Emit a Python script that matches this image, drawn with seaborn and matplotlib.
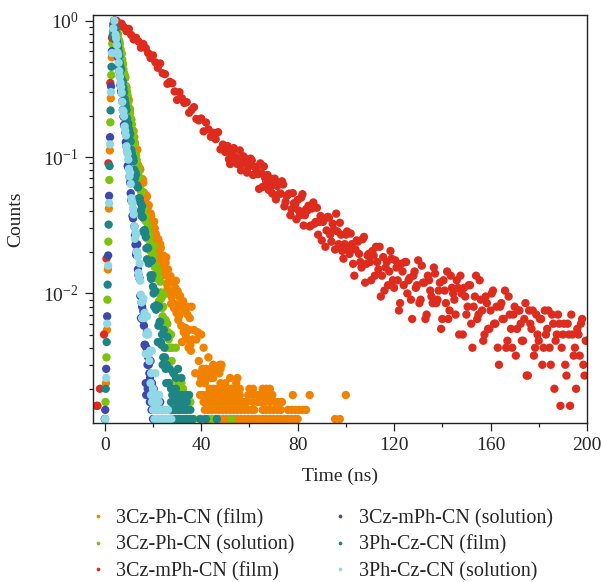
import numpy as np
import pandas as pd
import seaborn as sns
import matplotlib.pyplot as plt
from matplotlib.ticker import MultipleLocator

sns.set_style('ticks')
plt.rcParams['font.family'] = ['Liberation Serif', 'DejaVu Serif']
plt.rcParams['mathtext.fontset'] = 'stix'

# ---- transient PL decay data (raw counts, normalised to peak below) ----
labels = ['3Cz-Ph-CN (film)', '3Cz-Ph-CN (solution)', '3Cz-mPh-CN (film)',
          '3Cz-mPh-CN (solution)', '3Ph-Cz-CN (film)', '3Ph-Cz-CN (solution)']
colors = ['#F08200', '#7CC20E', '#DD2C1D', '#3D49A8', '#1E8584', '#90D8E6']

# 3Cz-Ph-CN (film)
orange_t = [0.1, 0.5, 0.9, 1.3, 1.7, 2.1, 2.5, 2.9, 3.4, 3.9,
            4.5, 5, 5.5, 6, 6.5, 7, 7.5, 8, 8.5, 9,
            9.5, 10, 10.5, 11, 11.5, 12, 12.5, 13, 13.5, 14,
            14.5, 15, 15.5, 16, 16.5, 17, 17.5, 18, 18.5, 19,
            19.5, 20, 20.5, 21, 21.5, 22, 22.5, 23, 23.5, 24,
            24.5, 25, 25.5, 26, 26.5, 27, 27.5, 28, 28.5, 29,
            29.5, 30, 30.5, 31, 31.5, 32, 32.5, 33, 33.5, 34,
            34.5, 35, 35.5, 36, 36.5, 37, 37.5, 38, 38.5, 39,
            39.5, 40, 41, 42, 43, 44, 45, 47.7, 48.4,
            40.5, 42, 44, 46, 48,
            39.5, 41, 43, 45, 47.5,
            40, 42.5, 45, 52, 55,
            39.5, 41.5, 48, 50, 54.5,
            43.5, 45, 46.5, 48, 49.5, 51, 52.5, 54, 56, 60, 61.5, 65.5, 67, 68.5,
            40.5, 42, 43.5, 45, 46.5, 48, 49.5, 51, 52.5, 54, 56, 59.5, 61.5, 63.5,
            65, 66.5, 68, 69.5, 78, 85, 100,
            41, 42.5, 44, 45.5, 47, 48.5, 50, 51.5, 53, 54.5, 56, 57.5, 59, 61.5,
            63.5, 65, 66.5, 68.5, 70.5, 72, 73.5,
            41.5, 43, 44.5, 46, 47.5, 49, 50.5, 52, 53.5, 55, 56.5, 58, 59.5, 61,
            62, 65.5, 67, 68.5, 70, 71.5, 73, 76, 77.5, 79, 80.5, 82, 83.5,
            40, 41.5, 43, 44.5, 46, 47.5, 49, 50.5, 52, 53.5, 55, 56.5, 58, 59.5,
            61, 62.5, 64, 65.5, 67, 68.5, 70, 71.5, 73, 74.5, 76, 77.5, 79, 80,
            95.5, 97.5]
orange_c = [6, 11, 27, 75, 210, 560, 1350, 2700, 4200, 5000,
            4600, 4142, 3964, 3549, 3100, 2876, 2428, 2061, 1905, 1632,
            1355, 1314, 1119, 935, 791, 775, 630, 536, 568, 429,
            415, 325, 338, 324, 262, 208, 257, 217, 190, 193,
            143, 155, 168, 121, 118, 126, 85, 115, 94, 76,
            88, 73, 92, 54, 66, 64, 42, 62, 51, 42,
            62, 41, 32, 47, 40, 22, 44, 37, 28, 23,
            40, 27, 21, 40, 23, 27, 13, 23, 26, 16,
            9, 25, 20, 13, 17, 12, 15, 15, 15,
            14, 14, 14, 14, 14,
            13, 13, 13, 13, 13,
            12, 12, 12, 12, 12,
            11, 11, 11, 11, 11,
            10, 10, 10, 10, 10, 10, 10, 10, 10, 10, 10, 10, 10, 10,
            9, 9, 9, 9, 9, 9, 9, 9, 9, 9, 9, 9, 9, 9,
            9, 9, 9, 9, 9, 9, 9,
            8, 8, 8, 8, 8, 8, 8, 8, 8, 8, 8, 8, 8, 8,
            8, 8, 8, 8, 8, 8, 8,
            7, 7, 7, 7, 7, 7, 7, 7, 7, 7, 7, 7, 7, 7,
            7, 7, 7, 7, 7, 7, 7, 7, 7, 7, 7, 7, 7,
            6, 6, 6, 6, 6, 6, 6, 6, 6, 6, 6, 6, 6, 6,
            6, 6, 6, 6, 6, 6, 6, 6, 6, 6, 6, 6, 6, 6,
            6, 6]
orange_t2 = [12.25, 12.75, 13.25, 13.75, 14.25, 14.75, 15.25, 15.75, 16.25, 16.75,
             17.25, 17.75, 18.25, 18.75, 19.25, 19.75, 20.25, 20.75, 21.25, 21.75,
             22.25, 22.75, 23.25, 23.75, 24.25, 24.75, 25.25, 25.75, 26.25, 26.75,
             27.25, 27.75, 28.25, 28.75, 29.25, 29.75, 30.25, 30.75, 31.25, 31.75,
             32.25, 32.75, 33.25, 33.75, 34.25, 34.75, 35.25, 35.75]
orange_c2 = [700, 570, 560, 440, 400, 405, 330, 345, 275, 240,
             262, 200, 222, 170, 186, 148, 131, 150, 136, 105,
             124, 96, 108, 80, 95, 68, 84, 59, 75, 50,
             67, 47, 60, 39, 55, 36, 52, 34, 48, 29,
             43, 26, 38, 24, 35, 20, 33, 19]

# 3Cz-Ph-CN (solution)
green_t = [0.3, 0.7, 1.1, 1.5, 1.9, 2.3, 2.7, 3.1, 3.6, 4.0,
           4.5, 5, 5.5, 6, 6.5, 7, 7.5, 8, 8.5, 9,
           9.5, 10, 10.5, 11, 11.5, 12, 12.5, 13, 13.5, 14,
           14.5, 15, 15.5, 16, 16.5, 17, 17.5, 18, 18.5, 19,
           19.5, 20, 20.5, 21, 21.5, 22, 22.5, 23, 23.5, 24,
           24.5, 25, 25.5, 26, 26.5, 27, 27.5, 28, 28.5, 29,
           29.5, 30,
           30.5, 31.8, 31, 32.5, 29.5, 31, 33, 30, 32, 35.5,
           30.5, 33, 34.5, 31, 34, 37, 44.5, 52.5]
green_c = [8, 17, 45, 120, 340, 900, 2000, 3400, 4700, 5000,
           4460, 4364, 3928, 3504, 3042, 2851, 2393, 2037, 1943, 1569,
           1411, 1131, 1059, 951, 771, 620, 630, 513, 427, 394,
           293, 286, 280, 200, 184, 183, 127, 156, 128, 102,
           112, 92, 111, 66, 76, 71, 44, 61, 46, 34,
           49, 29, 20, 30, 23, 11, 25, 20, 13, 9,
           20, 12,
           11, 11, 10, 10, 9, 9, 9, 8, 8, 8,
           7, 7, 7, 6, 6, 6, 6, 6]
green_t2 = [4.75, 5.25, 5.75, 6.25, 6.75, 7.25, 7.75, 8.25, 8.75, 9.25,
            9.75, 10.25, 10.75, 11.25, 11.75, 12.25, 12.75, 13.25, 13.75, 14.25,
            14.75, 15.25, 15.75, 16.25, 16.75, 17.25, 17.75, 18.25, 18.75, 19.25,
            19.75, 20.25, 20.75, 21.25, 21.75, 22.25, 22.75, 23.25, 23.75, 24.25,
            24.75, 25.25, 25.75, 26.25, 26.75, 27.25, 27.75]
green_c2 = [4400, 4120, 3660, 3370, 2880, 2600, 2200, 1975, 1665, 1500,
            1260, 1140, 955, 870, 720, 655, 528, 478, 388, 358,
            290, 272, 219, 210, 172, 168, 138, 137, 114, 114,
            95, 96, 78, 80, 64, 66, 50, 51, 39, 40,
            31, 32, 25, 26, 20, 20, 16]

# 3Cz-mPh-CN (film)
red_t = [-3.4, -3.0, -2.0, -0.3, 0.7, 1.5, 2.3, 3.0, 3.6, 4.3,
         5, 6, 7, 8, 9, 10, 11, 12, 13, 14,
         15, 16, 17, 18, 19, 20, 21, 22, 23, 24,
         25, 26, 27, 28, 29, 30, 31, 32, 33, 34,
         35, 36, 37, 38, 39, 40, 41, 42, 43, 44,
         45, 46, 47, 48, 49, 50, 51, 52, 53, 54,
         55, 56, 57, 58, 59, 60, 61, 62, 63, 64,
         65, 66, 67, 68, 69, 70, 71, 72, 73, 74,
         75, 76, 77, 78, 79, 80, 81, 82, 83, 84,
         85, 86, 87, 88, 89, 90, 91, 92, 93, 94,
         95, 96, 97, 98, 99, 100, 101, 102, 103, 104,
         105, 106, 107, 108, 109, 110, 111, 112, 113, 114,
         115, 116, 117, 118, 119, 120, 121, 122, 123, 124,
         125, 126, 127, 128, 129, 130, 131, 132, 133, 134,
         135, 136, 137, 138, 139, 140, 141, 142, 143, 144,
         145, 146, 147, 148, 149, 150, 151, 152, 153, 154,
         155, 156, 157, 158, 159, 160, 161, 162, 163, 164,
         165, 166, 167, 168, 169, 170, 171, 172, 173, 174,
         175, 176, 177, 178, 179, 180, 181, 182, 183, 184,
         185, 186, 187, 188, 189, 190, 191, 192, 193, 194,
         195, 196, 197, 198, 199, 200]
red_c = [3, 3, 4, 10, 36, 180, 700, 1500, 1900, 2000,
         1995, 1831, 1903, 1789, 1677, 1742, 1571, 1459, 1499, 1411,
         1270, 1350, 1260, 1158, 1067, 1114, 991, 904, 973, 825,
         812, 690, 713, 697, 606, 525, 599, 540, 499, 506,
         423, 444, 465, 381, 372, 384, 309, 359, 320, 282,
         302, 271, 305, 228, 247, 218, 241, 178, 219, 200,
         178, 224, 180, 198, 154, 178, 189, 150, 166, 117,
         152, 171, 132, 115, 139, 125, 98, 129, 108, 126,
         94, 106, 75, 109, 90, 97, 75, 107, 75, 81,
         62, 84, 65, 85, 67, 49, 70, 58, 72, 48,
         59, 77, 46, 54, 36, 54, 43, 55, 33, 42,
         48, 34, 50, 24, 38, 34, 41, 27, 34, 44,
         27, 21, 34, 29, 36, 22, 31, 15, 33, 23,
         34, 25, 18, 27, 22, 35, 18, 24, 13, 27,
         21, 17, 28, 18, 24, 13, 21, 29, 15, 22,
         18, 25, 10, 20, 22, 14, 23, 12, 16, 27,
         14, 18, 9, 19, 11, 15, 21, 12, 8, 16,
         13, 21, 9, 14, 8, 16, 11, 15, 9, 13,
         5, 15, 11, 7, 14, 9, 13, 8, 10, 15,
         6, 12, 9, 14, 3, 10, 6, 12, 3, 10,
         8, 11, 7, 13, 5, 9]
red_t2 = [50.5, 51.5, 52.5, 53.5, 54.5, 55.5, 56.5, 57.5, 58.5, 59.5,
          60.5, 61.5, 62.5, 63.5, 64.5, 65.5, 66.5, 67.5, 68.5, 69.5,
          70.5, 71.5, 72.5, 73.5, 74.5, 75.5, 76.5, 77.5, 78.5, 79.5,
          80.5, 81.5, 82.5, 83.5, 84.5, 85.5, 86.5, 87.5, 88.5, 89.5,
          90.5, 91.5, 92.5, 93.5, 94.5, 95.5, 96.5, 97.5, 98.5, 99.5,
          100.5, 101.5, 102.5, 103.5, 104.5, 105.5, 106.5, 107.5, 108.5, 109.5,
          110.5, 111.5, 112.5, 113.5, 114.5, 115.5, 116.5, 117.5, 118.5, 119.5,
          120.5, 121.5, 122.5, 123.5, 124.5, 125.5, 126.5, 127.5, 128.5, 129.5,
          130.5, 131.5, 132.5, 133.5, 134.5, 135.5, 136.5, 137.5, 138.5, 139.5,
          140.5, 141.5, 142.5, 143.5, 144.5, 145.5, 146.5, 147.5, 148.5, 149.5,
          150.5, 151.5, 152.5, 153.5, 154.5, 155.5, 156.5, 157.5, 158.5, 159.5,
          160.5, 161.5, 162.5, 163.5, 164.5, 165.5, 166.5, 167.5, 168.5, 169.5,
          170.5, 171.5, 172.5, 173.5, 174.5, 175.5, 176.5, 177.5, 178.5, 179.5,
          180.5, 181.5, 182.5, 183.5, 184.5, 185.5, 186.5, 187.5, 188.5, 189.5,
          190.5, 191.5, 192.5, 193.5, 194.5, 195.5, 196.5, 197.5, 198.5, 199.5]
red_c2 = [238, 193, 213, 233, 183, 196, 160, 203, 186, 168,
          195, 148, 169, 150, 180, 121, 141, 148, 119, 108,
          139, 123, 108, 133, 87, 104, 108, 83, 92, 70,
          81, 101, 63, 83, 88, 63, 93, 67, 54, 74,
          67, 44, 73, 54, 65, 42, 57, 66, 41, 46,
          57, 39, 46, 27, 49, 39, 31, 52, 33, 39,
          25, 38, 44, 30, 19, 37, 31, 23, 41, 25,
          35, 25, 17, 29, 34, 20, 26, 13, 29, 23,
          17, 32, 24, 14, 25, 19, 31, 17, 21, 11,
          25, 17, 13, 27, 20, 14, 22, 27, 10, 19,
          16, 23, 8, 19, 13, 25, 15, 10, 17, 11,
          20, 12, 16, 6, 17, 13, 8, 19, 11, 14,
          7, 15, 12, 9, 17, 5, 12, 15, 8, 10,
          13, 6, 15, 11, 8, 14, 4, 10, 12, 8,
          12, 5, 10, 14, 7, 4, 10, 12, 6, 9]

# 3Cz-mPh-CN (solution)
navy_t = [0.2, 0.6, 1.0, 1.4, 1.8, 2.2, 2.6, 3.0, 3.5, 4.0,
          4.5, 5, 5.5, 6, 6.5, 7, 7.5, 8, 8.5, 9,
          9.5, 10, 10.5, 11, 11.5, 12, 12.5, 13, 13.5, 14,
          14.5, 15, 15.5, 16, 16.5, 17, 17.5, 18, 18.5, 19,
          18.2, 19.6, 17.8, 19.2, 20.3, 17.2, 19.8, 21.2,
          18.7, 20.1, 21.6, 23.0, 19.4, 20.9, 22.4, 24.1,
          20.0, 21.8, 23.6, 25.3]
navy_c = [7, 14, 34, 95, 260, 700, 1650, 3000, 4500, 5000,
          4079, 3163, 2707, 2138, 1685, 1481, 1109, 863, 762, 599,
          430, 419, 325, 242, 185, 190, 133, 96, 115, 68,
          64, 33, 40, 37, 21, 11, 26, 17, 13, 16,
          11, 11, 10, 10, 10, 9, 9, 9,
          8, 8, 8, 8, 7, 7, 7, 7,
          6, 6, 6, 6]
navy_t2 = [4.75, 5.25, 5.75, 6.25, 6.75, 7.25, 7.75, 8.25, 8.75, 9.25,
           9.75, 10.25, 10.75, 11.25, 11.75, 12.25, 12.75, 13.25, 13.75, 14.25,
           14.75, 15.25, 15.75, 16.25, 16.75, 17.25, 17.75, 18.25, 18.75]
navy_c2 = [3580, 2990, 2330, 1950, 1520, 1280, 990, 840, 645, 550,
           420, 360, 272, 236, 178, 155, 114, 101, 75, 66,
           48, 43, 32, 29, 21, 20, 15, 15, 12]

# 3Ph-Cz-CN (film)
teal_t = [0.0, 0.4, 0.8, 1.2, 1.6, 2.0, 2.4, 2.8, 3.3, 3.9,
          4.5, 5, 5.5, 6, 6.5, 7, 7.5, 8, 8.5, 9,
          9.5, 10, 10.5, 11, 11.5, 12, 12.5, 13, 13.5, 14,
          14.5, 15, 15.5, 16, 16.5, 17, 17.5, 18, 18.5, 19,
          19.5, 20, 20.5, 21, 21.5, 22, 22.5, 23, 23.5, 24,
          24.5, 25, 25.5, 26, 26.5, 27,
          30.4, 28.5, 29.5, 31.8,
          27.5, 28.5, 29.5,
          28, 29, 30.5, 32, 33.5, 35,
          27.5, 29, 30, 31, 32.5, 34,
          27, 28, 29, 30, 31, 32, 33, 34, 35.5,
          27.5, 28.5, 29.5, 30.5, 31.5, 32.5, 33.5, 34.5, 35.5, 36.5,
          39.5, 42, 46.5]
teal_c = [6, 10, 22, 58, 160, 430, 1100, 2300, 3900, 5000,
          4364, 3589, 3180, 2755, 2276, 1870, 1788, 1499, 1251, 1108,
          870, 800, 741, 565, 502, 468, 351, 374, 308, 249,
          249, 204, 219, 143, 146, 130, 89, 108, 86, 68,
          87, 56, 40, 52, 41, 22, 40, 31, 21, 15,
          27, 17, 11, 24, 11, 14,
          14, 13, 12, 12,
          10, 10, 10,
          9, 9, 9, 9, 9, 9,
          8, 8, 8, 8, 8, 8,
          7, 7, 7, 7, 7, 7, 7, 7, 7,
          6, 6, 6, 6, 6, 6, 6, 6, 6, 6,
          6, 6, 6]
teal_t2 = [4.75, 5.25, 5.75, 6.25, 6.75, 7.25, 7.75, 8.25, 8.75, 9.25,
           9.75, 10.25, 10.75, 11.25, 11.75, 12.25, 12.75, 13.25, 13.75, 14.25,
           14.75, 15.25, 15.75, 16.25, 16.75, 17.25, 17.75, 18.25, 18.75, 19.25,
           19.75, 20.25, 20.75, 21.25, 21.75, 22.25, 22.75, 23.25, 23.75, 24.25,
           24.75, 25.25, 25.75]
teal_c2 = [4020, 3380, 2960, 2450, 2190, 1810, 1620, 1335, 1185, 965,
           880, 718, 652, 530, 495, 404, 382, 312, 300, 240,
           232, 186, 181, 140, 140, 107, 108, 83, 86, 64,
           68, 50, 52, 38, 40, 29, 31, 22, 25, 17,
           20, 14, 15]

# 3Ph-Cz-CN (solution)
cyan_t = [0.2, 0.6, 1.0, 1.4, 1.8, 2.2, 2.6, 3.0, 3.5, 4.0,
          4.5, 5, 5.5, 6, 6.5, 7, 7.5, 8, 8.5, 9,
          9.5, 10, 10.5, 11, 11.5, 12, 12.5, 13, 13.5, 14,
          14.5, 15, 15.5, 16, 16.5, 17, 17.5, 18, 18.5, 19,
          19.5, 20, 20.5, 21,
          19.2, 20.2, 21.6, 22.6,
          19.6, 20.6, 21.4, 22.4,
          20.0, 21.0, 22.0, 23.0, 24.0, 25.0, 26.2,
          20.6, 21.6, 22.6, 23.6, 24.6, 25.6, 26.6, 27.6]
cyan_c = [6, 12, 30, 80, 230, 620, 1500, 2900, 4400, 5000,
          3958, 3321, 2802, 2141, 1755, 1482, 1100, 999, 779, 600,
          529, 410, 385, 250, 230, 190, 126, 135, 99, 71,
          83, 49, 33, 46, 36, 18, 34, 25, 16, 11,
          19, 10, 7, 13,
          9, 9, 9, 9,
          8, 8, 8, 8,
          7, 7, 7, 7, 7, 7, 7,
          6, 6, 6, 6, 6, 6, 6, 6]
cyan_t2 = [4.75, 5.25, 5.75, 6.25, 6.75, 7.25, 7.75, 8.25, 8.75, 9.25,
           9.75, 10.25, 10.75, 11.25, 11.75, 12.25, 12.75, 13.25, 13.75, 14.25,
           14.75, 15.25, 15.75, 16.25, 16.75, 17.25, 17.75, 18.25, 18.75, 19.25]
cyan_c2 = [3700, 2930, 2460, 1940, 1630, 1270, 1080, 840, 720, 550,
           480, 362, 318, 237, 210, 155, 140, 101, 93, 66,
           62, 43, 44, 33, 34, 25, 26, 18, 19, 13]

series = [(labels[0], orange_t + orange_t2, orange_c + orange_c2),
          (labels[1], green_t + green_t2, green_c + green_c2),
          (labels[2], red_t + red_t2, red_c + red_c2),
          (labels[3], navy_t + navy_t2, navy_c + navy_c2),
          (labels[4], teal_t + teal_t2, teal_c + teal_c2),
          (labels[5], cyan_t + cyan_t2, cyan_c + cyan_c2)]

frames = []
for name, t, c in series:
    c = np.array(c, dtype=float)
    frames.append(pd.DataFrame({'Time': t, 'Counts': c / c.max(), 'sample': name}))
df = pd.concat(frames, ignore_index=True)

fig = plt.figure(figsize=(6.02, 5.82), dpi=100)
ax = fig.add_axes([0.154, 0.273, 0.821, 0.701])

sns.scatterplot(data=df, x='Time', y='Counts', hue='sample', hue_order=labels,
                palette=colors, s=36, linewidth=0, ax=ax)

ax.set_yscale('log')
ax.set_xlim(-5, 200)
ax.set_ylim(1.12e-3, 1.1)
ax.set_xticks([0, 40, 80, 120, 160, 200])
ax.xaxis.set_minor_locator(MultipleLocator(20))
ax.tick_params(which='major', length=6, width=0.9, labelsize=14, pad=4, color='#222222')
ax.tick_params(which='minor', length=3, width=0.9, color='#222222')
for sp in ax.spines.values():
    sp.set_linewidth(1.0)
    sp.set_color('#222222')
ax.set_xlabel('Time (ns)', fontsize=14, labelpad=10)
ax.set_ylabel('Counts', fontsize=14, labelpad=14)

h, l = ax.get_legend_handles_labels()
ax.legend_.remove()
fig.legend(h, l, ncol=2, loc='upper left', bbox_to_anchor=(0.112, 0.157),
           frameon=False, fontsize=14.5, markerscale=0.45, handletextpad=0.3,
           columnspacing=1.7, labelspacing=0.36, handlelength=1.2)

fig.savefig('out.png', dpi=100)
